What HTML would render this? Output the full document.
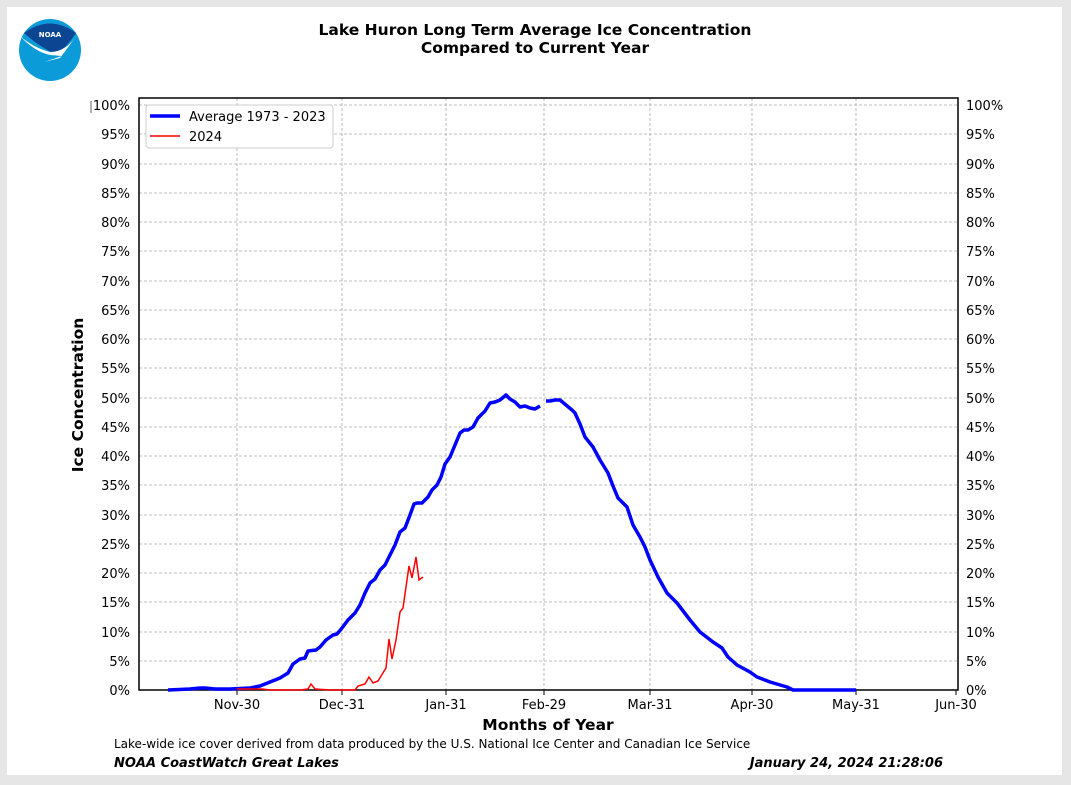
<!DOCTYPE html>
<html><head><style>
body{margin:0;width:1071px;height:785px;background:#e6e6e6;font-family:"DejaVu Sans","Liberation Sans",sans-serif;overflow:hidden}
.card{position:absolute;left:7px;top:7px;width:1055px;height:768px;background:#fff}
</style></head><body>
<div class="card"></div>
<svg width="1071" height="785" style="position:absolute;left:0;top:0" font-family="DejaVu Sans, Liberation Sans, sans-serif">
<circle cx="50" cy="50" r="31" fill="#0a9bd8"/>
<path d="M24 33 Q50 14 76 33 Q68 45 56 56 Q50 51 44 48 Q34 42 24 33Z" fill="#0c4592"/>
<path d="M20 36 Q35 52 50 55 L62 56 L44 62 L60 58 L78 34 Q66 52 50 52 Q34 48 20 36Z" fill="#fff"/>
<text x="50" y="37" font-size="7" font-weight="bold" fill="#fff" text-anchor="middle">NOAA</text>
<text x="535" y="35" font-size="15.5" font-weight="bold" text-anchor="middle">Lake Huron Long Term Average Ice Concentration</text>
<text x="535" y="53" font-size="15.5" font-weight="bold" text-anchor="middle">Compared to Current Year</text>
<g stroke="#aaa" stroke-dasharray="3,2" stroke-width="0.8">
<line x1="139" x2="958" y1="105" y2="105"/><line x1="139" x2="958" y1="134" y2="134"/><line x1="139" x2="958" y1="164" y2="164"/><line x1="139" x2="958" y1="193" y2="193"/><line x1="139" x2="958" y1="222" y2="222"/><line x1="139" x2="958" y1="251" y2="251"/><line x1="139" x2="958" y1="281" y2="281"/><line x1="139" x2="958" y1="310" y2="310"/><line x1="139" x2="958" y1="339" y2="339"/><line x1="139" x2="958" y1="368" y2="368"/><line x1="139" x2="958" y1="398" y2="398"/><line x1="139" x2="958" y1="427" y2="427"/><line x1="139" x2="958" y1="456" y2="456"/><line x1="139" x2="958" y1="485" y2="485"/><line x1="139" x2="958" y1="515" y2="515"/><line x1="139" x2="958" y1="544" y2="544"/><line x1="139" x2="958" y1="573" y2="573"/><line x1="139" x2="958" y1="602" y2="602"/><line x1="139" x2="958" y1="632" y2="632"/><line x1="139" x2="958" y1="661" y2="661"/>
<line x1="237" x2="237" y1="98" y2="690"/><line x1="342" x2="342" y1="98" y2="690"/><line x1="446" x2="446" y1="98" y2="690"/><line x1="544" x2="544" y1="98" y2="690"/><line x1="650" x2="650" y1="98" y2="690"/><line x1="752" x2="752" y1="98" y2="690"/><line x1="856" x2="856" y1="98" y2="690"/>
</g>
<rect x="139" y="98" width="819" height="592" fill="none" stroke="#000" stroke-width="1.5"/>
<g stroke="#000"><line x1="237" x2="237" y1="690" y2="695"/><line x1="342" x2="342" y1="690" y2="695"/><line x1="446" x2="446" y1="690" y2="695"/><line x1="544" x2="544" y1="690" y2="695"/><line x1="650" x2="650" y1="690" y2="695"/><line x1="752" x2="752" y1="690" y2="695"/><line x1="856" x2="856" y1="690" y2="695"/><line x1="956" x2="956" y1="690" y2="695"/></g>
<g font-size="13" text-anchor="middle"><text x="237" y="709">Nov-30</text><text x="342" y="709">Dec-31</text><text x="446" y="709">Jan-31</text><text x="544" y="709">Feb-29</text><text x="650" y="709">Mar-31</text><text x="752" y="709">Apr-30</text><text x="856" y="709">May-31</text><text x="956" y="709">Jun-30</text></g>
<g font-size="13" text-anchor="end">
<text x="130" y="110">100%</text><text x="130" y="139">95%</text><text x="130" y="169">90%</text><text x="130" y="198">85%</text><text x="130" y="227">80%</text><text x="130" y="256">75%</text><text x="130" y="286">70%</text><text x="130" y="315">65%</text><text x="130" y="344">60%</text><text x="130" y="373">55%</text><text x="130" y="403">50%</text><text x="130" y="432">45%</text><text x="130" y="461">40%</text><text x="130" y="490">35%</text><text x="130" y="520">30%</text><text x="130" y="549">25%</text><text x="130" y="578">20%</text><text x="130" y="607">15%</text><text x="130" y="637">10%</text><text x="130" y="666">5%</text><text x="130" y="695">0%</text></g>
<g font-size="13"><text x="966" y="110">100%</text><text x="966" y="139">95%</text><text x="966" y="169">90%</text><text x="966" y="198">85%</text><text x="966" y="227">80%</text><text x="966" y="256">75%</text><text x="966" y="286">70%</text><text x="966" y="315">65%</text><text x="966" y="344">60%</text><text x="966" y="373">55%</text><text x="966" y="403">50%</text><text x="966" y="432">45%</text><text x="966" y="461">40%</text><text x="966" y="490">35%</text><text x="966" y="520">30%</text><text x="966" y="549">25%</text><text x="966" y="578">20%</text><text x="966" y="607">15%</text><text x="966" y="637">10%</text><text x="966" y="666">5%</text><text x="966" y="695">0%</text></g>
<line x1="91" x2="91" y1="101" y2="113" stroke="#666"/>
<polyline fill="none" stroke="#00f" stroke-width="3.5" stroke-linejoin="round" points="168,690 190,689 200,688 205,688 215,689 230,689 250,688 260,686 270,682 280,678 288,673 293,664 300,659 305,658 308,651 316,650 320,647 326,640 333,635 337,634 342,628 348,620 355,613 360,605 365,593 370,583 375,579 380,570 385,565 390,555 395,545 400,532 405,528 410,515 414,504 417,503 422,503 428,497 432,490 437,485 441,477 445,464 450,457 455,445 460,433 464,430 468,430 473,427 478,418 485,411 490,403 495,402 500,400 506,395 510,399 515,402 520,407 525,406 530,408 535,409 540,406"/>
<polyline fill="none" stroke="#00f" stroke-width="3.5" stroke-linejoin="round" points="546,401 550,401 555,400 560,400 566,405 572,410 575,413 580,424 585,437 593,447 600,460 608,473 613,486 618,498 627,507 633,525 640,537 645,547 650,560 658,577 667,593 677,603 690,620 700,632 713,642 722,648 728,657 737,665 750,672 757,677 770,682 787,687 793,690 856,690"/>
<polyline fill="none" stroke="#f00" stroke-width="1.5" points="237,689 262,689 270,690 300,690 308,689 311,684 315,689 330,690 355,690 358,686 365,684 369,677 373,683 378,681 386,668 389,639 392,659 396,640 400,612 403,608 409,566 412,578 416,557 419,580 423,577"/>
<rect x="146" y="105" width="187" height="43" fill="#fff" stroke="#ccc" rx="3"/>
<line x1="150" x2="180" y1="116" y2="116" stroke="#00f" stroke-width="3.5"/>
<line x1="150" x2="180" y1="136" y2="136" stroke="#f00" stroke-width="1.5"/>
<text x="189" y="121" font-size="13">Average 1973 - 2023</text>
<text x="189" y="141" font-size="13">2024</text>
<text x="548" y="730" font-size="15.5" font-weight="bold" text-anchor="middle">Months of Year</text>
<text transform="translate(83,395) rotate(-90)" font-size="15.5" font-weight="bold" text-anchor="middle">Ice Concentration</text>
<text x="114" y="748" font-size="12">Lake-wide ice cover derived from data produced by the U.S. National Ice Center and Canadian Ice Service</text>
<text x="114" y="767" font-size="13" font-weight="bold" font-style="italic">NOAA CoastWatch Great Lakes</text>
<text x="943" y="767" font-size="13" font-weight="bold" font-style="italic" text-anchor="end">January 24, 2024 21:28:06</text>
</svg>
</body></html>
